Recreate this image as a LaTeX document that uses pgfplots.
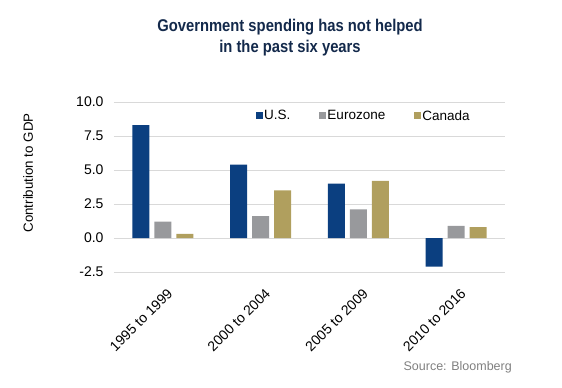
\documentclass[border=0pt]{standalone}
\usepackage{fontspec}
\setmainfont{Liberation Sans}
\newfontfamily\titlefont{Liberation Sans}[FakeStretch=0.87]
\usepackage{pgfplots}
\pgfplotsset{compat=1.18}
\definecolor{usblue}{HTML}{0B3F80}
\definecolor{eurogray}{HTML}{98999C}
\definecolor{cangold}{HTML}{B09F5E}
\definecolor{titlenavy}{HTML}{13294B}
\definecolor{gridgray}{HTML}{D9D9D9}
\begin{document}
\begin{tikzpicture}
\useasboundingbox (-114bp,-116bp) rectangle (448bp,272bp);
\begin{axis}[
  at={(0,0)}, anchor=south west,
  scale only axis, width=391bp, height=170bp,
  xmin=-0.5, xmax=3.5, ymin=-2.5, ymax=10,
  ybar, bar width=0.175,
  axis line style={draw=none},
  major tick length=0pt,
  ymajorgrids, grid style={gridgray, line width=0.8pt},
  ytick={-2.5,0,2.5,5,7.5,10},
  /pgf/number format/fixed, /pgf/number format/fixed zerofill, /pgf/number format/precision=1, /pgf/number format/assume math mode=true,
  yticklabel style={font=\fontsize{14bp}{16bp}\selectfont, xshift=-7bp},
  xtick={0,1,2,3},
  xticklabels={1995 to 1999, 2000 to 2004, 2005 to 2009, 2010 to 2016},
  xticklabel style={font=\fontsize{14bp}{16bp}\selectfont, rotate=45, anchor=north east, yshift=-10bp, xshift=-5bp},
  legend columns=3,
  legend style={at={(0.362,0.918)}, anchor=west, draw=none, fill=none,
    font=\fontsize{13.5bp}{15bp}\selectfont, inner sep=0pt,
    /tikz/every even column/.append style={column sep=27bp},
    nodes={inner sep=1.5bp}},
  legend cell align=left,
  legend image code/.code={\fill[#1] (0bp,-3.5bp) rectangle (7bp,3.5bp);},
]
\addplot[fill=usblue, draw=none, bar shift=-0.225] coordinates {(0,8.3) (1,5.4) (2,4.0) (3,-2.1)};
\addplot[fill=eurogray, draw=none, bar shift=0] coordinates {(0,1.2) (1,1.6) (2,2.1) (3,0.9)};
\addplot[fill=cangold, draw=none, bar shift=0.225] coordinates {(0,0.3) (1,3.5) (2,4.2) (3,0.8)};
\legend{U.S., Eurozone, Canada}
\end{axis}
\node[align=center, text=titlenavy, font=\titlefont\bfseries\fontsize{17bp}{21bp}\selectfont] at (176bp,234bp) {Government spending has not helped\\in the past six years};
\node[rotate=90, font=\fontsize{13.3bp}{15bp}\selectfont] at (-86bp,99bp) {Contribution to GDP};
\node[anchor=east, text=gray, font=\fontsize{12.5bp}{15bp}\selectfont, inner sep=0pt] at (398bp,-95bp) {Source: Bloomberg};
\end{tikzpicture}
\end{document}
